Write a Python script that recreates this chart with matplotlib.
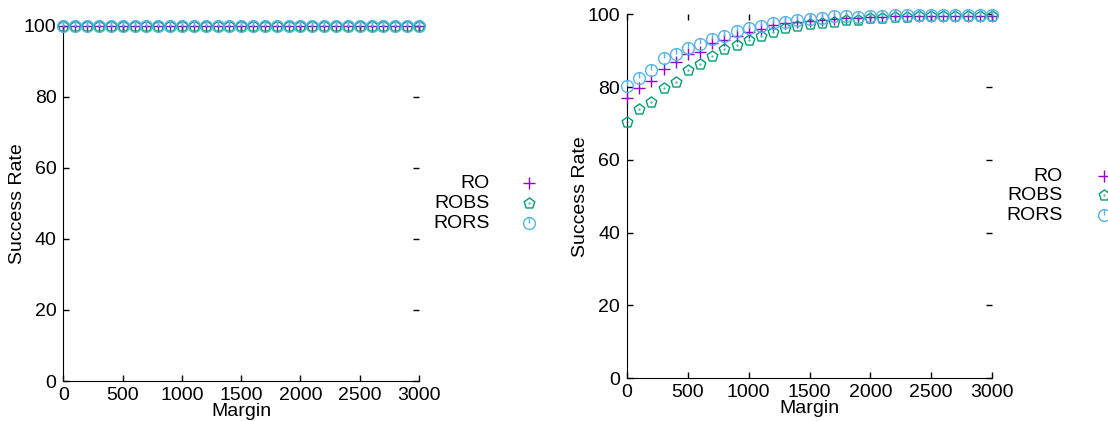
import matplotlib
matplotlib.use("Agg")
import matplotlib.pyplot as plt
import numpy as np
from matplotlib.path import Path
from matplotlib.lines import Line2D

plt.rcParams['font.family'] = ['Liberation Sans', 'DejaVu Sans']
plt.rcParams['font.size'] = 14

margin = list(range(0, 3001, 100))

# left panel: every method succeeds always
left_ro = [100] * 31
left_robs = [100] * 31
left_rors = [100] * 31

# right panel
right_ro = [77.1, 79.8, 81.7, 85.0, 86.8, 89.0, 89.5, 92.0, 92.9, 94.1, 95.2,
            96.0, 97.0, 97.7, 98.0, 98.2, 98.3, 98.7, 98.9, 98.9, 99.2,
            99.2, 99.4, 99.4, 99.5, 99.5, 99.6, 99.6, 99.6, 99.6, 99.6]
right_robs = [70.3, 74.0, 75.8, 79.6, 81.5, 84.7, 86.3, 88.6, 90.4, 91.6, 92.9,
              94.1, 95.1, 96.1, 96.9, 97.2, 97.5, 98.0, 98.4, 98.4, 98.9,
              98.9, 99.2, 99.2, 99.4, 99.4, 99.5, 99.5, 99.6, 99.6, 99.6]
right_rors = [80.3, 82.5, 84.7, 87.9, 89.0, 90.8, 91.7, 93.3, 94.1, 95.3, 96.1,
              96.9, 97.6, 97.9, 98.4, 98.7, 98.9, 99.4, 99.6, 99.3, 99.5,
              99.6, 99.7, 99.7, 99.7, 99.7, 99.8, 99.8, 99.8, 99.8, 99.8]

names = ['RO', 'ROBS', 'RORS']
colors = ['#9400d3', '#009e73', '#56b4e9']

# gnuplot-like markers: pentagon with a centre dot, circle with a stroke
pent = Path.make_compound_path(Path.unit_regular_polygon(5),
                               Path.circle((0, 0), 0.06))
circ = Path.make_compound_path(Path.unit_circle(), Path([[0, 1], [0, 0]]))
markers = ['+', pent, circ]
msizes = [8, 8, 8.5]


def style_axes(ax):
    ax.set_xlim(0, 3000)
    ax.set_ylim(0, 100)
    ax.set_xticks(range(0, 3001, 500))
    ax.set_yticks(range(0, 101, 20))
    ax.spines['top'].set_visible(False)
    ax.spines['right'].set_visible(False)
    ax.tick_params(direction='in', length=4, width=1, top=True, right=True)
    ax.tick_params(axis='x', pad=4.5)
    ax.tick_params(axis='y', pad=5)
    ax.set_xlabel('Margin', labelpad=-1)
    ax.set_ylabel('Success Rate')
    ax.yaxis.set_label_coords(-0.105, 0.5)


def legend(fig, xtext, xmark, ys):
    for name, c, m, ms, y in zip(names, colors, markers, msizes, ys):
        fig.text(xtext / 1108, 1 - y / 421, name, ha='right', va='center')
        fig.add_artist(Line2D([xmark / 1108], [1 - y / 421], marker=m,
                              markersize=ms, color=c, markerfacecolor='none',
                              markeredgewidth=1.0, linestyle='none',
                              transform=fig.transFigure))


fig = plt.figure(figsize=(11.08, 4.21), dpi=100)
ax1 = fig.add_axes([0.0573, 0.095, 0.3208, 0.844])
ax2 = fig.add_axes([0.5659, 0.1021, 0.3294, 0.864])

for ax, series in [(ax1, [left_ro, left_robs, left_rors]),
                   (ax2, [right_ro, right_robs, right_rors])]:
    for vals, c, m, ms in zip(series, colors, markers, msizes):
        ax.plot(margin, vals, linestyle='none', marker=m, markersize=ms,
                color=c, markerfacecolor='none', markeredgewidth=1.0,
                clip_on=False, zorder=3)
    style_axes(ax)

legend(fig, 490, 529, [183, 203, 223])
legend(fig, 1063, 1104, [176, 195, 215])

fig.savefig('out.png', dpi=100)
